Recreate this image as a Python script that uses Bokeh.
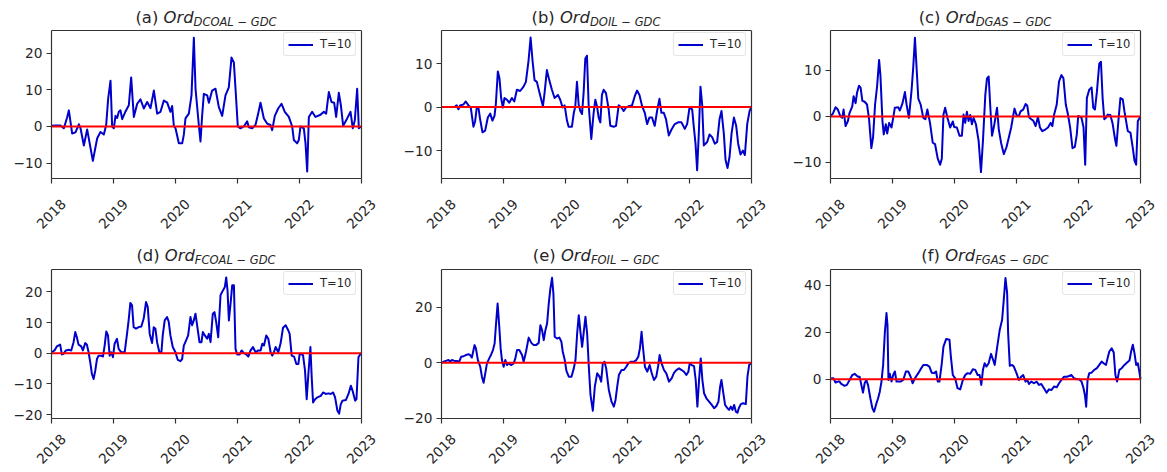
import math
from bokeh.plotting import figure
from bokeh.layouts import column, row
from bokeh.models import Range1d, FixedTicker, Span, Div, LinearAxis
from bokeh.embed import file_html
from bokeh.resources import INLINE

# ---------------- data ----------------
years = [2018, 2019, 2020, 2021, 2022, 2023]
year_labels = ["2018", "2019", "2020", "2021", "2022", "2023"]
panel_tags = ["(a)", "(b)", "(c)", "(d)", "(e)", "(f)"]
subscripts = ["DCOAL − GDC", "DOIL − GDC", "DGAS − GDC", "FCOAL − GDC", "FOIL − GDC", "FGAS − GDC"]
legend_text = "T=10"
zero_level = 0

yticks_a = [-10, 0, 10, 20]
yticks_b = [-10, 0, 10]
yticks_c = [-10, 0, 10]
yticks_d = [-20, -10, 0, 10, 20]
yticks_e = [-20, 0, 20]
yticks_f = [0, 20, 40]

ylim_a = (-14.2, 26.2)
ylim_b = (-16.4, 17.6)
ylim_c = (-13.5, 18.7)
ylim_d = (-21.3, 27.3)
ylim_e = (-20.1, 33.7)
ylim_f = (-16.7, 46.7)

t_a = [2018.000, 2018.065, 2018.145, 2018.199, 2018.253, 2018.280, 2018.333, 2018.387, 2018.441, 2018.468,
       2018.522, 2018.575, 2018.667, 2018.737, 2018.790, 2018.844, 2018.882, 2018.914, 2018.952, 2018.978,
       2019.005, 2019.032, 2019.059, 2019.086, 2019.113, 2019.140, 2019.194, 2019.247, 2019.285, 2019.328,
       2019.382, 2019.435, 2019.489, 2019.543, 2019.597, 2019.651, 2019.704, 2019.758, 2019.812, 2019.866,
       2019.919, 2019.946, 2019.973, 2020.000, 2020.054, 2020.108, 2020.134, 2020.161, 2020.215, 2020.258,
       2020.296, 2020.323, 2020.376, 2020.403, 2020.430, 2020.457, 2020.511, 2020.538, 2020.591, 2020.645,
       2020.699, 2020.753, 2020.806, 2020.860, 2020.903, 2020.941, 2020.968, 2021.005, 2021.048, 2021.102,
       2021.156, 2021.183, 2021.237, 2021.290, 2021.333, 2021.371, 2021.425, 2021.478, 2021.532, 2021.559,
       2021.602, 2021.656, 2021.710, 2021.763, 2021.828, 2021.882, 2021.909, 2021.962, 2021.989, 2022.016,
       2022.070, 2022.097, 2022.124, 2022.151, 2022.204, 2022.258, 2022.339, 2022.392, 2022.430, 2022.473,
       2022.516, 2022.559, 2022.591, 2022.634, 2022.667, 2022.704, 2022.769, 2022.823, 2022.860, 2022.892,
       2022.930, 2022.957, 2022.995]
v_a = [0.2, 0.3, 0.3, -0.5, 2.5, 4.4, -1.9, -1.6, 0.6, -0.5,
       -5.2, -0.8, -9.4, -3.2, -1.5, -2.2, 0.4, 7.6, 12.5, 0.0,
       -0.5, 2.9, 2.3, 4.0, 4.4, 2.0, 4.1, 5.8, 13.4, 2.6,
       6.2, 7.4, 4.9, 6.7, 5.0, 9.8, 3.5, 4.0, 7.1, 6.5,
       4.0, 5.6, 0.2, -0.5, -4.6, -4.6, -2.3, 2.2, 3.5, 8.5,
       24.2, 10.3, 0.4, -4.1, 3.0, 8.9, 8.5, 6.5, 9.8, 10.3,
       5.3, 2.9, 8.5, 10.7, 18.8, 17.5, 10.3, 0.0, -0.5, 0.0,
       1.4, -0.2, -0.5, 0.4, 3.5, 6.5, 2.2, 0.8, 0.4, -1.0,
       2.9, 4.9, 6.2, 4.0, 2.6, 0.0, -3.7, -4.6, -3.7, 0.0,
       -0.5, -4.6, -12.3, 2.6, 4.0, 2.6, 3.2, 4.0, 3.5, 9.4,
       6.7, 6.5, 2.6, 9.2, 5.8, 0.2, 2.2, 4.0, -0.5, 1.7,
       10.3, -0.5, 0.0]

t_b = [2018.219, 2018.246, 2018.273, 2018.300, 2018.354, 2018.391, 2018.435, 2018.472, 2018.515, 2018.542,
       2018.569, 2018.596, 2018.623, 2018.661, 2018.704, 2018.747, 2018.785, 2018.822, 2018.855, 2018.876,
       2018.909, 2018.935, 2018.962, 2018.989, 2019.016, 2019.054, 2019.092, 2019.135, 2019.174, 2019.216,
       2019.269, 2019.323, 2019.361, 2019.404, 2019.437, 2019.468, 2019.501, 2019.538, 2019.576, 2019.609,
       2019.636, 2019.662, 2019.700, 2019.738, 2019.781, 2019.824, 2019.878, 2019.915, 2019.953, 2019.986,
       2020.024, 2020.050, 2020.104, 2020.131, 2020.158, 2020.185, 2020.212, 2020.239, 2020.266, 2020.292,
       2020.319, 2020.346, 2020.373, 2020.416, 2020.454, 2020.481, 2020.508, 2020.535, 2020.562, 2020.588,
       2020.615, 2020.653, 2020.696, 2020.723, 2020.777, 2020.815, 2020.858, 2020.901, 2020.938, 2020.976,
       2021.019, 2021.073, 2021.117, 2021.154, 2021.193, 2021.236, 2021.279, 2021.316, 2021.353, 2021.396,
       2021.439, 2021.477, 2021.515, 2021.547, 2021.585, 2021.622, 2021.666, 2021.708, 2021.762, 2021.816,
       2021.870, 2021.924, 2021.962, 2022.000, 2022.043, 2022.070, 2022.097, 2022.123, 2022.150, 2022.177,
       2022.204, 2022.231, 2022.285, 2022.323, 2022.365, 2022.408, 2022.446, 2022.484, 2022.516, 2022.554,
       2022.581, 2022.613, 2022.646, 2022.678, 2022.716, 2022.753, 2022.785, 2022.823, 2022.861, 2022.893,
       2022.931, 2022.969, 2022.996]
v_b = [0.2, 0.4, -0.5, 0.4, 0.6, 1.3, 0.4, -0.1, -4.5, -3.3,
       -0.1, -0.1, -2.8, -5.8, -5.4, -2.4, -1.5, -3.1, -2.0, 0.6,
       8.2, 6.6, 2.1, -0.1, 2.1, 1.7, 1.0, 2.1, 1.3, 4.0,
       3.7, 4.7, 5.8, 10.7, 16.0, 10.7, 6.2, 5.8, 3.6, 1.7,
       0.2, 3.2, 8.5, 6.2, 4.0, 2.1, 2.8, 1.7, -0.1, 0.4,
       -3.1, -4.5, -4.5, -1.6, 0.2, 5.8, 0.6, -0.9, -1.6, 3.2,
       11.1, 11.8, 0.6, -7.3, -1.3, 1.7, 0.2, -2.4, -3.5, 2.8,
       4.0, 3.2, -0.5, -4.3, -4.5, -4.3, 0.4, -0.1, -0.9, -0.1,
       0.2, 0.4, 2.5, 3.8, 2.8, 0.2, -1.3, -3.9, -2.4, -2.4,
       -4.3, -0.9, 1.9, -1.3, -1.3, -2.8, -6.5, -5.2, -3.9, -3.5,
       -3.5, -5.0, -3.9, -0.1, -0.5, -4.6, -8.4, -14.5, -6.1, 4.7,
       0.6, -8.8, -8.0, -6.3, -6.9, -8.4, -8.0, -2.8, -0.9, -6.1,
       -12.1, -14.0, -11.4, -6.1, -2.4, -4.3, -8.4, -10.9, -10.0, -11.0,
       -3.9, -0.9, 0.0]

t_c = [2018.000, 2018.038, 2018.081, 2018.119, 2018.157, 2018.189, 2018.211, 2018.243, 2018.281, 2018.308,
       2018.351, 2018.373, 2018.405, 2018.427, 2018.459, 2018.486, 2018.514, 2018.551, 2018.589, 2018.622,
       2018.659, 2018.686, 2018.719, 2018.751, 2018.784, 2018.805, 2018.838, 2018.859, 2018.892, 2018.914,
       2018.946, 2018.984, 2019.011, 2019.038, 2019.092, 2019.119, 2019.162, 2019.200, 2019.227, 2019.265,
       2019.308, 2019.335, 2019.362, 2019.389, 2019.416, 2019.454, 2019.497, 2019.530, 2019.562, 2019.605,
       2019.649, 2019.686, 2019.730, 2019.768, 2019.795, 2019.822, 2019.849, 2019.886, 2019.930, 2019.973,
       2019.995, 2020.038, 2020.081, 2020.119, 2020.146, 2020.173, 2020.200, 2020.227, 2020.254, 2020.281,
       2020.308, 2020.346, 2020.389, 2020.427, 2020.459, 2020.497, 2020.524, 2020.551, 2020.578, 2020.605,
       2020.643, 2020.686, 2020.714, 2020.751, 2020.795, 2020.838, 2020.876, 2020.914, 2020.946, 2020.968,
       2021.000, 2021.038, 2021.065, 2021.108, 2021.146, 2021.173, 2021.200, 2021.238, 2021.270, 2021.308,
       2021.346, 2021.378, 2021.416, 2021.470, 2021.508, 2021.551, 2021.578, 2021.605, 2021.649, 2021.686,
       2021.724, 2021.757, 2021.795, 2021.832, 2021.865, 2021.903, 2021.941, 2021.973, 2021.995, 2022.027,
       2022.049, 2022.081, 2022.108, 2022.135, 2022.173, 2022.211, 2022.238, 2022.265, 2022.297, 2022.335,
       2022.362, 2022.389, 2022.416, 2022.443, 2022.470, 2022.514, 2022.551, 2022.589, 2022.611, 2022.643,
       2022.676, 2022.714, 2022.741, 2022.768, 2022.795, 2022.838, 2022.876, 2022.903, 2022.930, 2022.957,
       2022.995]
v_c = [0.1, 0.6, 2.0, 1.5, 0.1, -0.3, 1.5, -2.1, -1.0, 0.8,
       2.2, 4.4, 2.9, 5.1, 6.7, 6.2, 3.4, 3.2, 2.6, -0.6,
       -6.9, -4.6, 2.6, 6.5, 12.3, 9.0, -1.0, -3.9, -1.7, -3.7,
       -1.4, -2.4, -0.3, 1.9, 2.0, 1.3, 2.9, 5.3, 2.6, -0.3,
       5.8, 10.8, 17.1, 10.5, 3.9, 2.6, -0.3, -0.6, 1.5, -1.4,
       -5.7, -6.0, -9.2, -10.5, -9.2, 0.4, 1.9, -0.3, -2.4, -1.1,
       -2.3, -2.4, -4.2, -4.2, 0.4, -1.4, 1.0, -1.0, 0.3, -1.7,
       -0.3, -1.7, -5.3, -12.1, -5.3, 4.7, 8.3, 8.7, 1.9, -4.2,
       -1.7, 1.9, -2.8, -5.7, -8.2, -6.7, -4.6, -2.4, 0.1, 1.7,
       0.3, 0.1, 1.1, 1.5, 2.7, 2.4, -0.1, -0.6, -0.9, -2.1,
       -0.1, -2.4, -3.2, -2.8, -2.4, -1.4, -2.1, 0.3, 2.6, 7.6,
       9.0, 8.3, 2.6, 0.3, -2.4, -6.9, -6.6, -3.9, 0.1, -0.1,
       -0.3, -2.4, -10.5, 4.0, 5.8, 6.3, 1.9, 1.5, 5.4, 11.5,
       11.9, 4.0, -0.6, -0.3, 0.4, 0.3, -1.6, -4.9, -6.4, -1.0,
       4.0, 3.7, 1.1, -1.0, -3.2, -3.5, -6.9, -9.6, -10.5, -1.0,
       -0.1]

t_d = [2018.005, 2018.048, 2018.086, 2018.140, 2018.167, 2018.194, 2018.232, 2018.275, 2018.318, 2018.356,
       2018.383, 2018.409, 2018.436, 2018.480, 2018.506, 2018.544, 2018.571, 2018.598, 2018.625, 2018.652,
       2018.679, 2018.706, 2018.733, 2018.760, 2018.803, 2018.830, 2018.857, 2018.884, 2018.911, 2018.938,
       2018.964, 2018.991, 2019.018, 2019.056, 2019.083, 2019.126, 2019.180, 2019.218, 2019.244, 2019.272,
       2019.299, 2019.325, 2019.363, 2019.406, 2019.449, 2019.487, 2019.525, 2019.552, 2019.584, 2019.622,
       2019.649, 2019.676, 2019.703, 2019.740, 2019.773, 2019.794, 2019.826, 2019.864, 2019.891, 2019.918,
       2019.956, 2019.999, 2020.037, 2020.080, 2020.107, 2020.134, 2020.171, 2020.204, 2020.241, 2020.268,
       2020.295, 2020.322, 2020.349, 2020.387, 2020.419, 2020.441, 2020.473, 2020.511, 2020.538, 2020.565,
       2020.602, 2020.629, 2020.656, 2020.689, 2020.726, 2020.753, 2020.796, 2020.818, 2020.839, 2020.861,
       2020.888, 2020.915, 2020.942, 2020.968, 2020.995, 2021.033, 2021.066, 2021.103, 2021.141, 2021.174,
       2021.211, 2021.249, 2021.292, 2021.335, 2021.373, 2021.400, 2021.427, 2021.464, 2021.497, 2021.534,
       2021.561, 2021.588, 2021.615, 2021.658, 2021.696, 2021.734, 2021.777, 2021.820, 2021.841, 2021.874,
       2021.912, 2021.949, 2021.982, 2022.003, 2022.036, 2022.057, 2022.089, 2022.116, 2022.143, 2022.176,
       2022.197, 2022.219, 2022.251, 2022.289, 2022.343, 2022.380, 2022.423, 2022.467, 2022.504, 2022.542,
       2022.574, 2022.612, 2022.639, 2022.666, 2022.693, 2022.747, 2022.790, 2022.828, 2022.855, 2022.898,
       2022.919, 2022.951, 2022.989]
v_d = [0.3, 0.9, 2.2, 2.8, -0.4, -0.2, 0.9, 1.1, 0.9, 3.6,
       6.9, 5.2, 2.8, 2.2, 0.9, 3.3, 2.8, 0.3, -3.0, -6.8,
       -8.4, -5.7, -1.9, -0.8, -0.8, -1.1, 2.5, 7.1, 5.8, -0.8,
       0.3, -1.3, 3.1, 4.7, 1.4, 0.3, 0.3, 6.3, 10.7, 16.4,
       15.6, 8.5, 8.0, 8.5, 8.7, 11.3, 16.7, 15.1, 6.3, 3.3,
       8.5, 8.0, 3.6, 0.3, 0.3, 5.8, 10.7, 11.8, 10.2, 5.8,
       2.0, 0.3, -2.2, -2.6, -1.9, 2.5, 4.2, 5.8, 11.8, 9.1,
       10.7, 12.9, 9.1, 3.6, 3.6, 6.9, 5.8, 4.7, 6.3, 3.6,
       12.9, 13.4, 10.2, 5.2, 18.9, 20.0, 21.6, 24.7, 20.5, 10.7,
       16.2, 22.2, 22.2, 1.4, -0.4, -0.4, 0.9, 0.0, -0.4, -1.1,
       0.9, 2.0, 0.3, 0.9, 0.9, 3.1, 2.5, 5.8, 4.7, 0.3,
       -0.8, 0.3, 2.0, 0.3, 3.3, 8.3, 9.1, 7.4, 6.3, -0.8,
       -1.1, -3.5, -3.5, -0.2, -0.4, -0.6, -5.7, -15.0, -6.8, 2.0,
       -7.9, -16.1, -15.0, -14.4, -13.9, -12.8, -13.3, -13.1, -13.3, -12.8,
       -14.4, -18.8, -19.7, -16.6, -15.5, -15.3, -13.3, -10.6, -12.2, -15.5,
       -15.0, -1.3, 0.0]

t_e = [2018.005, 2018.032, 2018.070, 2018.113, 2018.140, 2018.167, 2018.210, 2018.248, 2018.286, 2018.318,
       2018.356, 2018.393, 2018.436, 2018.463, 2018.490, 2018.533, 2018.555, 2018.587, 2018.625, 2018.652,
       2018.679, 2018.706, 2018.733, 2018.770, 2018.803, 2018.830, 2018.857, 2018.878, 2018.905, 2018.932,
       2018.954, 2018.975, 2019.002, 2019.029, 2019.056, 2019.083, 2019.126, 2019.164, 2019.191, 2019.218,
       2019.255, 2019.299, 2019.325, 2019.363, 2019.406, 2019.449, 2019.487, 2019.525, 2019.568, 2019.595,
       2019.622, 2019.649, 2019.676, 2019.703, 2019.730, 2019.756, 2019.783, 2019.805, 2019.826, 2019.864,
       2019.902, 2019.934, 2019.956, 2019.988, 2020.015, 2020.053, 2020.096, 2020.134, 2020.161, 2020.188,
       2020.214, 2020.241, 2020.268, 2020.295, 2020.322, 2020.349, 2020.376, 2020.403, 2020.441, 2020.473,
       2020.511, 2020.548, 2020.575, 2020.602, 2020.629, 2020.656, 2020.699, 2020.742, 2020.780, 2020.807,
       2020.834, 2020.861, 2020.904, 2020.942, 2020.980, 2021.012, 2021.050, 2021.103, 2021.141, 2021.174,
       2021.200, 2021.227, 2021.249, 2021.281, 2021.319, 2021.357, 2021.389, 2021.427, 2021.464, 2021.497,
       2021.518, 2021.550, 2021.588, 2021.626, 2021.669, 2021.712, 2021.750, 2021.788, 2021.831, 2021.874,
       2021.912, 2021.949, 2021.982, 2022.003, 2022.036, 2022.073, 2022.100, 2022.127, 2022.154, 2022.181,
       2022.208, 2022.235, 2022.273, 2022.316, 2022.359, 2022.397, 2022.434, 2022.467, 2022.494, 2022.515,
       2022.542, 2022.574, 2022.612, 2022.639, 2022.666, 2022.693, 2022.720, 2022.747, 2022.774, 2022.795,
       2022.828, 2022.865, 2022.908, 2022.935, 2022.962, 2022.989]
v_e = [0.0, 0.4, 0.7, 1.0, 0.4, 1.0, 0.7, 0.7, 0.4, 2.2,
       2.4, 2.8, 3.1, 2.8, 1.9, 6.4, 5.2, 1.0, -1.4, -5.0,
       -7.2, -3.8, -0.2, 1.6, 3.1, 4.6, 7.0, 13.6, 21.4, 13.0,
       5.2, 1.0, -1.4, 1.0, -0.8, -0.2, -0.8, -0.2, 1.6, 4.6,
       4.6, 2.8, 0.4, 4.0, 9.1, 7.2, 6.4, 6.4, 7.2, 13.6,
       11.8, 8.2, 11.8, 14.2, 21.4, 26.8, 30.7, 25.0, 9.4, 8.8,
       9.1, 7.6, 4.0, 1.0, -2.9, -5.0, -5.0, -2.0, 1.0, 10.6,
       17.2, 11.2, 5.8, 11.2, 16.6, 10.6, -1.4, -11.6, -17.3, -8.6,
       -3.8, -5.0, -6.8, -0.2, 0.4, -2.0, -9.8, -14.0, -15.8, -13.4,
       -8.6, -4.4, -2.6, -2.6, -1.4, -0.2, 0.4, 0.4, 1.0, 2.2,
       5.2, 11.2, 5.8, -1.4, -3.2, -0.8, -3.6, -6.2, -5.0, -0.8,
       2.8, -0.2, -2.6, -3.8, -6.8, -5.6, -3.6, -2.6, -2.0, -2.6,
       -3.2, -4.4, -3.2, -0.2, -0.8, -1.2, -6.2, -15.8, -6.2, 1.6,
       -6.2, -11.0, -12.8, -14.0, -15.2, -16.4, -15.6, -14.0, -8.6, -6.2,
       -10.4, -15.2, -16.4, -17.0, -15.8, -17.0, -15.2, -17.6, -18.0, -16.4,
       -14.9, -14.6, -14.9, -5.0, -0.8, -0.2]

t_f = [2018.011, 2018.049, 2018.081, 2018.119, 2018.146, 2018.173, 2018.227, 2018.265, 2018.308, 2018.351,
       2018.389, 2018.443, 2018.470, 2018.497, 2018.524, 2018.551, 2018.578, 2018.605, 2018.643, 2018.676,
       2018.703, 2018.741, 2018.768, 2018.795, 2018.822, 2018.849, 2018.876, 2018.903, 2018.919, 2018.935,
       2018.957, 2018.984, 2019.011, 2019.038, 2019.065, 2019.092, 2019.130, 2019.173, 2019.216, 2019.254,
       2019.292, 2019.324, 2019.362, 2019.416, 2019.454, 2019.497, 2019.551, 2019.595, 2019.632, 2019.670,
       2019.703, 2019.730, 2019.757, 2019.795, 2019.822, 2019.865, 2019.919, 2019.941, 2019.973, 2020.011,
       2020.049, 2020.092, 2020.135, 2020.173, 2020.211, 2020.254, 2020.297, 2020.335, 2020.373, 2020.405,
       2020.432, 2020.459, 2020.486, 2020.514, 2020.551, 2020.589, 2020.622, 2020.649, 2020.686, 2020.730,
       2020.768, 2020.795, 2020.822, 2020.849, 2020.865, 2020.892, 2020.930, 2020.957, 2021.000, 2021.038,
       2021.076, 2021.108, 2021.146, 2021.173, 2021.200, 2021.238, 2021.281, 2021.324, 2021.362, 2021.400,
       2021.443, 2021.486, 2021.524, 2021.562, 2021.605, 2021.649, 2021.686, 2021.724, 2021.768, 2021.811,
       2021.849, 2021.886, 2021.930, 2021.973, 2022.011, 2022.049, 2022.081, 2022.103, 2022.124, 2022.146,
       2022.173, 2022.211, 2022.254, 2022.297, 2022.335, 2022.373, 2022.405, 2022.443, 2022.470, 2022.497,
       2022.535, 2022.568, 2022.595, 2022.622, 2022.659, 2022.697, 2022.741, 2022.784, 2022.822, 2022.849,
       2022.876, 2022.903, 2022.930, 2022.957, 2022.984, 2023.000]
v_f = [0.4, 0.4, -1.4, -1.0, -1.0, -2.0, -2.8, -2.4, -0.3, 1.8,
       2.3, 1.1, 1.1, -2.4, -5.7, -1.7, -0.3, -2.4, -8.1, -12.4,
       -13.8, -10.2, -8.1, -5.3, -1.0, 6.1, 19.6, 28.2, 23.2, -0.3,
       2.3, -1.0, 1.8, 3.3, -1.0, -1.0, -1.0, -0.3, 3.3, 3.3,
       1.1, -1.7, 0.4, 2.6, 4.3, 6.1, 6.1, 5.4, 2.8, 2.6,
       3.3, -1.0, -1.0, 6.8, 13.9, 17.1, 16.8, 9.7, 1.8, 0.4,
       -3.8, -4.3, -0.3, 1.8, 2.6, 2.3, 4.3, 4.0, 1.8, 1.8,
       -2.4, 4.0, 6.8, 5.4, 6.8, 10.8, 8.3, 6.1, 13.2, 21.1,
       25.3, 33.9, 43.1, 36.7, 19.6, 5.7, 6.1, 5.4, 2.6, -0.3,
       1.1, 1.8, -1.0, -0.3, -2.0, -1.0, -1.7, -1.0, -2.4, -2.0,
       -3.8, -5.7, -4.3, -4.6, -3.1, -3.4, -1.7, -0.3, 1.1, 1.1,
       1.4, 1.8, 0.4, 0.0, 0.0, -1.0, -3.8, -6.7, -11.7, -0.3,
       2.6, 2.8, 4.0, 4.7, 6.1, 7.5, 6.8, 6.1, 9.0, 11.8,
       13.2, 11.4, 1.8, -1.0, 4.0, 4.7, 6.1, 7.1, 8.0, 11.8,
       14.7, 11.1, 6.1, 6.8, 2.8, 0.0]

# ---------------- style / layout ----------------
FONT = "DejaVu Sans"
BLUE = "#0000cc"
DARK = "#262626"
SPINE = "#333333"
TICK_SIZE = 13.7
TITLE_SIZE = 16.4
SUB_SIZE = 11.5
EXTRA_PX = 12          # hidden strip right of the axes box, so the shifted year labels stay in range

col_w = [394, 386, 385]
col_left = [51, 47, 50]
col_right = [33, 29, 25]
row_title_h = [28, 20]
row_title_pad = [8, 0]
row_fig_h = [218, 206]
row_fig_top = [2, 3]
row_frame_h = [148, 149]
row_lbl_standoff = [18, 13]

series = [(t_a, v_a, ylim_a, yticks_a), (t_b, v_b, ylim_b, yticks_b), (t_c, v_c, ylim_c, yticks_c),
          (t_d, v_d, ylim_d, yticks_d), (t_e, v_e, ylim_e, yticks_e), (t_f, v_f, ylim_f, yticks_f)]


def style_axis(ax):
    ax.major_tick_out = 5
    ax.major_tick_in = 0
    ax.minor_tick_out = 0
    ax.minor_tick_in = 0
    ax.axis_line_color = SPINE
    ax.axis_line_width = 1.2
    ax.major_tick_line_color = SPINE
    ax.major_tick_line_width = 1.2
    ax.major_label_text_font = FONT
    ax.major_label_text_font_size = f"{TICK_SIZE}px"
    ax.major_label_text_color = DARK
    ax.major_label_standoff = 4


def make_panel(i):
    xs, ys, ylim, yt = series[i]
    r_i, c_i = divmod(i, 3)
    W = col_w[c_i]
    H = row_fig_h[r_i]
    L, R, T = col_left[c_i], col_right[c_i], row_fig_top[r_i]
    fh = row_frame_h[r_i]
    B = H - T - fh
    fw = W - L - R                                   # visible axes box width
    shift = EXTRA_PX * (years[-1] - years[0]) / fw   # same strip expressed in years
    p = figure(width=W, height=H,
               x_range=Range1d(years[0], years[-1] + shift), y_range=Range1d(*ylim),
               output_backend="svg", toolbar_location=None,
               min_border_left=L, min_border_right=R - EXTRA_PX, min_border_top=T, min_border_bottom=B)
    p.background_fill_color = "white"
    p.border_fill_color = "white"
    p.grid.visible = False
    p.outline_line_color = None

    p.line(xs, ys, line_color=BLUE, line_width=2, line_join="round", legend_label=legend_text)
    p.line([years[0], years[-1]], [zero_level, zero_level], line_color="#ff0000", line_width=2)

    # bottom axis: ticks only (labels come from the offset axis below)
    xa = p.xaxis[0]
    style_axis(xa)
    xa.ticker = FixedTicker(ticks=years)
    xa.bounds = (years[0], years[-1])
    xa.major_label_text_font_size = "0px"
    xa.major_label_text_color = None
    xa.major_label_standoff = 0

    ya = p.yaxis[0]
    style_axis(ya)
    ya.ticker = FixedTicker(ticks=yt)
    ya.major_label_overrides = {t: str(t).replace("-", "−") for t in yt}

    # top and right spines of the axes box
    top = LinearAxis(bounds=(years[0], years[-1]), ticker=FixedTicker(ticks=[]))
    top.axis_line_color = SPINE
    top.axis_line_width = 1.2
    top.major_tick_line_color = None
    top.minor_tick_line_color = None
    top.major_tick_out = 0
    top.major_label_text_font_size = "0px"
    top.major_label_text_color = None
    top.major_label_standoff = 0
    p.add_layout(top, "above")
    p.add_layout(Span(location=years[-1], dimension="height", line_color=SPINE, line_width=1.2))

    # rotated year labels, centred under their ticks
    p.extra_x_ranges = {"lbl": Range1d(years[0] - shift, years[-1])}
    la = LinearAxis(x_range_name="lbl", ticker=FixedTicker(ticks=years))
    la.major_label_overrides = {y: s for y, s in zip(years, year_labels)}
    la.major_label_orientation = math.pi / 4
    la.axis_line_color = None
    la.major_tick_line_color = None
    la.minor_tick_line_color = None
    la.major_tick_out = 0
    la.major_tick_in = 0
    la.minor_tick_out = 0
    la.minor_tick_in = 0
    la.major_label_text_font = FONT
    la.major_label_text_font_size = f"{TICK_SIZE}px"
    la.major_label_text_color = DARK
    la.major_label_standoff = row_lbl_standoff[r_i]
    p.add_layout(la, "below")

    lg = p.legend[0]
    lg.location = (fw - 78, fh - 26)
    lg.padding = 4
    lg.spacing = 0
    lg.glyph_width = 25
    lg.glyph_height = 13
    lg.label_height = 13
    lg.label_standoff = 7
    lg.label_text_font = FONT
    lg.label_text_font_size = "11.5px"
    lg.label_text_color = DARK
    lg.border_line_color = "#cccccc"
    lg.border_line_width = 1
    lg.background_fill_alpha = 0.8
    try:
        lg.border_radius = 3
    except Exception:
        pass

    html = (f'<div style="width:{fw}px;margin-left:{L}px;padding-top:{row_title_pad[r_i]}px;'
            f'text-align:center;white-space:nowrap;'
            f'font-family:\'{FONT}\';font-size:{TITLE_SIZE}px;line-height:20px;color:{DARK};">'
            f'{panel_tags[i]} <i>Ord</i><i style="font-size:{SUB_SIZE}px;position:relative;top:3px;">'
            f'{subscripts[i]}</i></div>')
    title = Div(text=html, width=W, height=row_title_h[r_i], margin=(0, 0, 0, 0))
    return column(title, p, spacing=0)


panels = [make_panel(i) for i in range(6)]
layout = column(row(*panels[:3], spacing=0), row(*panels[3:], spacing=0), spacing=0)

open("out.html", "w").write(file_html(layout, INLINE))
